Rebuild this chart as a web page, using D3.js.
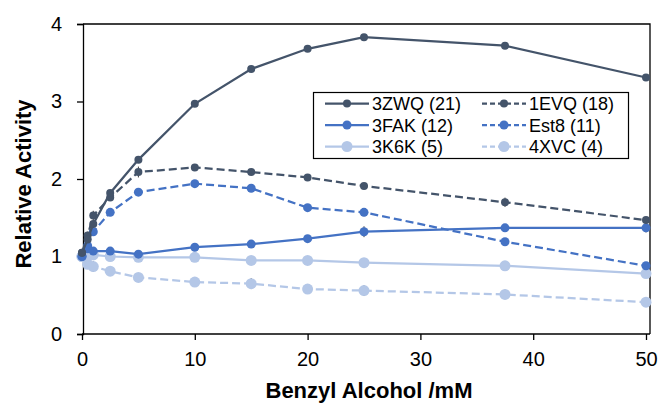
<!DOCTYPE html>
<html lang="en">
<head>
  <meta charset="UTF-8">
  <title>Relative Activity vs Benzyl Alcohol</title>
  <script src="https://d3js.org/d3.v7.min.js"></script>
  <style>
    html, body {
      margin: 0;
      padding: 0;
      background: #fff;
    }
    svg text {
      font-family: "Liberation Sans", Arial, sans-serif;
      fill: #000;
    }
    .axis-title {
      font-weight: bold;
      font-size: 22px;
    }
    .tick-label {
      font-size: 20px;
    }
  </style>
</head>
<body>
  <div id="container"></div>
  <script>
    const width = 659;
    const height = 403;

    // concentrations (mM)
    const conc = [0, 0.5, 1, 2.5, 5, 10, 15, 20, 25, 37.5, 50];

    const v3ZWQ = [1.05, 1.22, 1.42, 1.82, 2.25, 2.97, 3.42, 3.68, 3.83, 3.72, 3.31];
    const v1EVQ = [1.05, 1.27, 1.53, 1.76, 2.09, 2.15, 2.09, 2.02, 1.91, 1.70, 1.47];
    const v3FAK = [1.0, 1.10, 1.07, 1.07, 1.03, 1.12, 1.16, 1.23, 1.32, 1.37, 1.37];
    const vEst8 = [1.0, 1.14, 1.32, 1.57, 1.83, 1.94, 1.88, 1.63, 1.57, 1.19, 0.88];
    const v3K6K = [1.0, 1.0, 1.02, 1.0, 0.99, 0.99, 0.95, 0.95, 0.92, 0.88, 0.78];
    const v4XVC = [1.0, 0.90, 0.87, 0.81, 0.73, 0.67, 0.65, 0.58, 0.56, 0.51, 0.41];

    const e3ZWQ = [0.03, 0.04, 0.05, 0.04, 0.03, 0.03, 0.03, 0.03, 0.03, 0.03, 0.03];
    const e1EVQ = [0.03, 0.05, 0.06, 0.04, 0.07, 0.03, 0.03, 0.03, 0.04, 0.06, 0.03];
    const e3FAK = [0.03, 0.03, 0.03, 0.03, 0.03, 0.03, 0.03, 0.03, 0.07, 0.03, 0.06];
    const eEst8 = [0.03, 0.04, 0.05, 0.03, 0.03, 0.03, 0.04, 0.03, 0.05, 0.03, 0.04];
    const e3K6K = [0.03, 0.03, 0.03, 0.03, 0.03, 0.03, 0.03, 0.03, 0.05, 0.03, 0.03];
    const e4XVC = [0.03, 0.04, 0.07, 0.03, 0.03, 0.03, 0.07, 0.03, 0.07, 0.06, 0.03];

    const xTicks = [0, 10, 20, 30, 40, 50];
    const yTicks = [0, 1, 2, 3, 4];

    const series = [
      { name: '3ZWQ (21)', values: v3ZWQ, err: e3ZWQ, color: '#44546a', dash: null, r: 4 },
      { name: '1EVQ (18)', values: v1EVQ, err: e1EVQ, color: '#44546a', dash: '8,4', r: 4 },
      { name: '3FAK (12)', values: v3FAK, err: e3FAK, color: '#4472c4', dash: null, r: 4.5 },
      { name: 'Est8 (11)', values: vEst8, err: eEst8, color: '#4472c4', dash: '8,4', r: 4.5 },
      { name: '3K6K (5)', values: v3K6K, err: e3K6K, color: '#b4c7e7', dash: null, r: 5.5 },
      { name: '4XVC (4)', values: v4XVC, err: e4XVC, color: '#b4c7e7', dash: '8,4', r: 5.5 }
    ];

    const svg = d3.select('#container').append('svg')
      .attr('width', width).attr('height', height);

    const xScale = d3.scaleLinear().domain([0, 50]).range([82, 646]);
    const yScale = d3.scaleLinear().domain([0, 4]).range([334, 24]);

    // frame: top and right edges
    svg.append('path')
      .attr('d', `M83,24H650V334`)
      .attr('fill', 'none').attr('stroke', '#000').attr('stroke-width', 1.3);

    // axes
    const xAxis = svg.append('g').attr('transform', 'translate(0,334)')
      .call(d3.axisBottom(xScale).tickValues(xTicks).tickFormat(d3.format('d')).tickSize(6).tickPadding(12));
    xAxis.select('.domain').attr('d', 'M82,0H650');
    const yAxis = svg.append('g').attr('transform', 'translate(83,0)')
      .call(d3.axisLeft(yScale).tickValues(yTicks).tickFormat(d3.format('d')).tickSize(6).tickPadding(15));
    svg.selectAll('.domain, .tick line').attr('stroke', '#000').attr('stroke-width', 1.3);
    svg.selectAll('.tick text').attr('class', 'tick-label').attr('font-size', null).attr('font-family', null);

    // lines
    const line = d3.line()
      .x((d, i) => xScale(conc[i]))
      .y(d => yScale(d));

    // draw light series first so dark ones sit on top
    const order = [5, 4, 3, 2, 1, 0];
    order.forEach(k => {
      const s = series[k];
      const g = svg.append('g');
      g.append('path').datum(s.values)
        .attr('d', line)
        .attr('fill', 'none')
        .attr('stroke', s.color)
        .attr('stroke-width', 2.25)
        .attr('stroke-dasharray', s.dash);
      g.selectAll('line.err').data(s.values).join('line')
        .attr('class', 'err')
        .attr('x1', (d, i) => xScale(conc[i]))
        .attr('x2', (d, i) => xScale(conc[i]))
        .attr('y1', (d, i) => yScale(d + s.err[i]))
        .attr('y2', (d, i) => yScale(d - s.err[i]))
        .attr('stroke', '#3a3a3a')
        .attr('stroke-width', 1);
      g.selectAll('circle').data(s.values).join('circle')
        .attr('cx', (d, i) => xScale(conc[i]))
        .attr('cy', d => yScale(d))
        .attr('r', s.r)
        .attr('fill', s.color);
    });

    // axis titles
    svg.append('text').attr('class', 'axis-title')
      .attr('x', 369).attr('y', 398).attr('text-anchor', 'middle')
      .text('Benzyl Alcohol /mM');
    svg.append('text').attr('class', 'axis-title')
      .attr('transform', 'translate(31,184) rotate(-90)')
      .attr('text-anchor', 'middle')
      .text('Relative Activity');

    // legend
    const legend = svg.append('g');
    legend.append('rect')
      .attr('x', 313.5).attr('y', 92.5).attr('width', 315).attr('height', 66)
      .attr('fill', '#fff').attr('stroke', '#000').attr('stroke-width', 1.2);
    series.forEach((s, i) => {
      const col = i % 2, row = Math.floor(i / 2);
      const x0 = col === 0 ? 325 : 482;
      const y0 = 103.5 + row * 21.5;
      const item = legend.append('g').attr('transform', `translate(${x0},${y0})`);
      item.append('line')
        .attr('x1', 0).attr('x2', 44).attr('y1', 0).attr('y2', 0)
        .attr('stroke', s.color).attr('stroke-width', 2.25)
        .attr('stroke-dasharray', s.dash ? '5,3' : null);
      item.append('circle').attr('cx', 22).attr('cy', 0).attr('r', s.r).attr('fill', s.color);
      item.append('text').attr('x', 47).attr('y', 6.5)
        .attr('font-size', 18).text(s.name);
    });
  </script>
</body>
</html>
